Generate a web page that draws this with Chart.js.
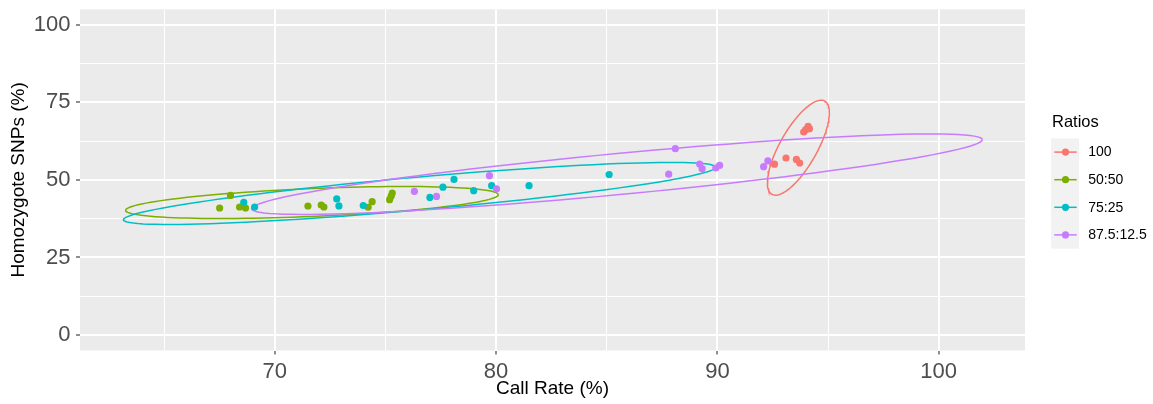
<!DOCTYPE html>
<html>
<head>
<meta charset="utf-8">
<script src="https://cdn.jsdelivr.net/npm/chart.js@4.4.1/dist/chart.umd.min.js"></script>
<style>
  html, body { margin: 0; padding: 0; background: #ffffff; }
  #wrap { position: relative; width: 1153px; height: 404px; }
</style>
</head>
<body>
<div id="wrap"><canvas id="c" width="1153" height="404"></canvas></div>
<script>
// Groups and their colours
const seriesNames = ['100', '50:50', '75:25', '87.5:12.5'];
const seriesColors = ['#F8766D', '#7CAE00', '#00BFC4', '#C77CFF'];

// Call rate (%) and homozygote SNPs (%) per sample, by group
const callRate100 = [92.58, 93.10, 93.57, 93.72, 93.90, 93.99, 94.10, 94.16];
const homozygote100 = [55.06, 57.06, 56.61, 55.45, 65.45, 66.19, 67.26, 66.52];

const callRate50 = [67.51, 68.00, 68.41, 68.68, 71.50, 72.10, 72.22, 74.22, 74.40, 75.19, 75.26, 75.31];
const homozygote50 = [40.94, 45.00, 41.26, 40.94, 41.58, 41.90, 41.26, 41.19, 42.97, 43.61, 44.74, 45.77];

const callRate75 = [68.60, 69.09, 72.80, 72.90, 74.00, 77.01, 77.60, 78.10, 78.99, 79.80, 81.49, 85.11];
const homozygote75 = [42.74, 41.26, 43.87, 41.61, 41.74, 44.35, 47.65, 50.16, 46.52, 48.13, 48.13, 51.74];

const callRate875 = [76.31, 77.31, 79.70, 80.02, 87.80, 88.10, 89.20, 89.31, 89.93, 90.10, 92.09, 92.28];
const homozygote875 = [46.29, 44.68, 51.35, 47.10, 51.84, 60.06, 55.13, 53.61, 53.84, 54.68, 54.26, 56.13];

// 95% confidence ellipse per group: centre, half extents and the lift of the rightmost point
const ellipseCenterX = [93.66, 71.68, 76.54, 85.46];
const ellipseCenterY = [60.39, 42.71, 45.63, 51.84];
const ellipseHalfWidth = [1.40, 8.42, 13.38, 16.51];
const ellipseHalfHeight = [15.32, 5.16, 10.0, 12.97];
const ellipseRightLift = [11.29, 2.52, 8.47, 11.13];

// Axis ticks
const xMajorTicks = [70, 80, 90, 100];
const xMinorTicks = [65, 75, 85, 95];
const yMajorTicks = [0, 25, 50, 75, 100];
const yMinorTicks = [12.5, 37.5, 62.5, 87.5];

const xTitle = 'Call Rate (%)';
const yTitle = 'Homozygote SNPs (%)';
const legendTitle = 'Ratios';

const callRates = [callRate100, callRate50, callRate75, callRate875];
const homozygotes = [homozygote100, homozygote50, homozygote75, homozygote875];

function pointsOf(i) {
  return callRates[i].map((x, k) => ({ x: x, y: homozygotes[i][k] }));
}

// Outline of an ellipse from its shape matrix [[w^2, w*d], [w*d, h^2]]
function ellipseOf(i) {
  const cx = ellipseCenterX[i], cy = ellipseCenterY[i];
  const w = ellipseHalfWidth[i], h = ellipseHalfHeight[i], d = ellipseRightLift[i];
  const v = Math.sqrt(h * h - d * d);
  const out = [];
  const n = 120;
  for (let k = 0; k <= n; k++) {
    const t = 2 * Math.PI * k / n;
    out.push({ x: cx + w * Math.cos(t), y: cy + d * Math.cos(t) + v * Math.sin(t) });
  }
  return out;
}

const datasets = [];
seriesNames.forEach((name, i) => {
  datasets.push({
    label: name + ' ellipse',
    data: ellipseOf(i),
    showLine: true,
    borderColor: seriesColors[i],
    borderWidth: 1.5,
    pointRadius: 0,
    fill: false,
    tension: 0,
    order: 20 - i
  });
});
seriesNames.forEach((name, i) => {
  datasets.push({
    label: name,
    data: pointsOf(i),
    showLine: false,
    pointRadius: 3.6,
    pointBorderWidth: 0,
    pointBackgroundColor: seriesColors[i],
    pointBorderColor: seriesColors[i],
    order: 10 - i
  });
});

const tickFont = { family: 'Liberation Sans, Arial, sans-serif', size: 22 };

function isMajor(list, v) { return list.some(m => Math.abs(m - v) < 1e-6); }

const panelBackground = {
  id: 'panelBackground',
  beforeDraw(chart) {
    const { ctx, chartArea: a } = chart;
    ctx.save();
    ctx.fillStyle = '#EBEBEB';
    ctx.fillRect(a.left, a.top, a.right - a.left, a.bottom - a.top);
    ctx.restore();
  }
};

const titlesAndLegend = {
  id: 'titlesAndLegend',
  afterDraw(chart) {
    const { ctx, chartArea: a } = chart;
    ctx.save();
    // axis titles
    ctx.fillStyle = '#000000';
    ctx.font = '19px "Liberation Sans", Arial, sans-serif';
    ctx.textAlign = 'center';
    ctx.textBaseline = 'middle';
    ctx.fillText(xTitle, (a.left + a.right) / 2, 389);
    ctx.save();
    ctx.translate(18.5, (a.top + a.bottom) / 2);
    ctx.rotate(-Math.PI / 2);
    ctx.fillText(yTitle, 0, 0);
    ctx.restore();

    // legend
    const lx = 1051, keyW = 28, keyH = 27.6, top0 = 138.3;
    ctx.textAlign = 'left';
    ctx.textBaseline = 'alphabetic';
    ctx.font = '16.5px "Liberation Sans", Arial, sans-serif';
    ctx.fillText(legendTitle, 1052, 126.5);
    ctx.fillStyle = '#F2F2F2';
    ctx.fillRect(lx, top0, keyW, keyH * seriesNames.length);
    ctx.font = '14px "Liberation Sans", Arial, sans-serif';
    ctx.textBaseline = 'middle';
    seriesNames.forEach((name, i) => {
      const cy = top0 + keyH * (i + 0.5);
      ctx.strokeStyle = seriesColors[i];
      ctx.lineWidth = 1.5;
      ctx.beginPath();
      ctx.moveTo(lx + 3.3, cy);
      ctx.lineTo(lx + keyW - 2.3, cy);
      ctx.stroke();
      ctx.fillStyle = seriesColors[i];
      ctx.beginPath();
      ctx.arc(lx + 14.5, cy, 3.6, 0, Math.PI * 2);
      ctx.fill();
      ctx.fillStyle = '#000000';
      ctx.fillText(name, 1088.3, cy + 0.5);
    });
    ctx.restore();
  }
};

new Chart(document.getElementById('c'), {
  type: 'scatter',
  data: { datasets: datasets },
  plugins: [panelBackground, titlesAndLegend],
  options: {
    responsive: false,
    animation: false,
    devicePixelRatio: 1,
    layout: { padding: { left: 0, right: 128, top: 9.3, bottom: 0 } },
    plugins: { legend: { display: false }, tooltip: { enabled: false } },
    scales: {
      x: {
        type: 'linear',
        min: 61.2,
        max: 103.9,
        afterBuildTicks: s => { s.ticks = xMinorTicks.concat(xMajorTicks).sort((p, q) => p - q).map(v => ({ value: v })); },
        afterFit: s => { s.height = 53.5; s.paddingLeft = 0; s.paddingRight = 0; },
        border: { display: false },
        grid: {
          color: '#FFFFFF',
          lineWidth: c => isMajor(xMajorTicks, c.tick.value) ? 2 : 1,
          drawTicks: true,
          tickLength: 4,
          tickWidth: 1.1,
          tickColor: c => isMajor(xMajorTicks, c.tick.value) ? '#333333' : 'rgba(0,0,0,0)'
        },
        ticks: {
          autoSkip: false,
          maxRotation: 0,
          padding: 4,
          color: '#4D4D4D',
          font: tickFont,
          callback: v => isMajor(xMajorTicks, v) ? String(v) : ''
        }
      },
      y: {
        type: 'linear',
        min: -5,
        max: 105,
        afterBuildTicks: s => { s.ticks = yMinorTicks.concat(yMajorTicks).sort((p, q) => p - q).map(v => ({ value: v })); },
        afterFit: s => { s.width = 80; s.paddingTop = 0; s.paddingBottom = 0; },
        border: { display: false },
        grid: {
          color: '#FFFFFF',
          lineWidth: c => isMajor(yMajorTicks, c.tick.value) ? 2 : 1,
          drawTicks: true,
          tickLength: 4,
          tickWidth: 1.1,
          tickColor: c => isMajor(yMajorTicks, c.tick.value) ? '#333333' : 'rgba(0,0,0,0)'
        },
        ticks: {
          autoSkip: false,
          padding: 5.5,
          color: '#4D4D4D',
          font: tickFont,
          callback: v => isMajor(yMajorTicks, v) ? String(v) : ''
        }
      }
    }
  }
});
</script>
</body>
</html>
